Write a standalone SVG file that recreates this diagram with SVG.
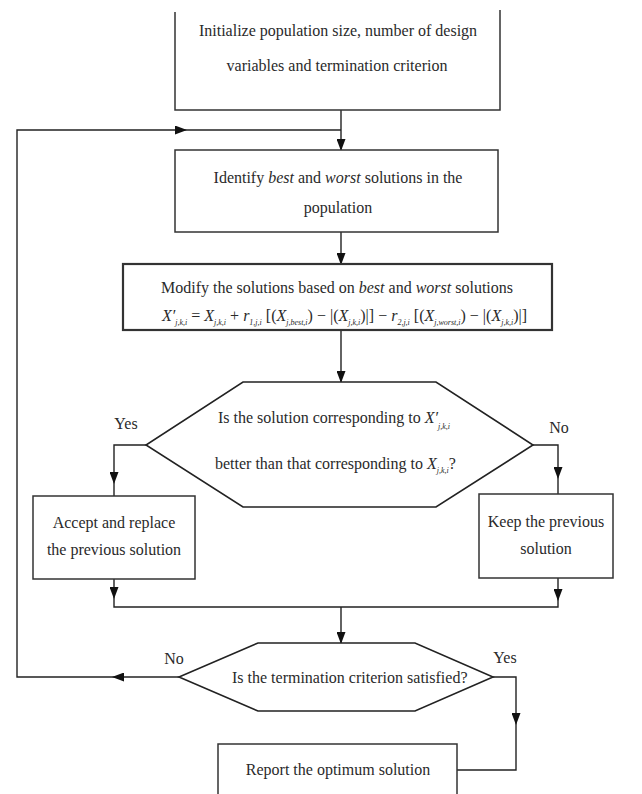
<svg xmlns="http://www.w3.org/2000/svg" width="642" height="794" viewBox="0 0 642 794">
<style>
.box{fill:#fff;stroke:#333;stroke-width:1.5}
.thick{stroke-width:2.2}
.hex{fill:#fff;stroke:#222;stroke-width:1.6}
.ln{fill:none;stroke:#222;stroke-width:1.4}
text{font-family:"Liberation Serif","Times New Roman",serif;font-size:16px;fill:#2a2a2a}
.c{text-anchor:middle}
.i{font-style:italic}
.sub{font-size:8px;font-style:italic}
</style>
<defs>
<marker id="ah" markerUnits="userSpaceOnUse" markerWidth="12" markerHeight="9" refX="11" refY="4.5" orient="auto">
<path d="M0,0 L12,4.5 L0,9 z" fill="#111"/>
</marker>
</defs>
<rect width="642" height="794" fill="#fff"/>

<g id="connectors">
<path class="ln" d="M341,110 V150" marker-end="url(#ah)"/>
<path class="ln" d="M113,677 H17 V130 H186" marker-end="url(#ah)"/>
<path class="ln" d="M186,130 H341"/>
<path class="ln" d="M341,232 V264" marker-end="url(#ah)"/>
<path class="ln" d="M341,330 V382" marker-end="url(#ah)"/>
<path class="ln" d="M146,445 H114 V483" marker-end="url(#ah)"/>
<path class="ln" d="M114,483 V496"/>
<path class="ln" d="M533,445 H558 V478" marker-end="url(#ah)"/>
<path class="ln" d="M558,478 V494"/>
<path class="ln" d="M114,579 V598" marker-end="url(#ah)"/>
<path class="ln" d="M114,598 V607 H558 V600"/>
<path class="ln" d="M558,578 V600" marker-end="url(#ah)"/>
<path class="ln" d="M341,607 V643" marker-end="url(#ah)"/>
<path class="ln" d="M179,677 H113" marker-end="url(#ah)"/>
<path class="ln" d="M493,677 H516 V724" marker-end="url(#ah)"/>
<path class="ln" d="M516,724 V770 H457"/>
<text x="126" y="429" class="c">Yes</text>
<text x="559" y="433" class="c">No</text>
<text x="174" y="664" class="c">No</text>
<text x="505" y="663" class="c">Yes</text>
</g>

<g id="init">
<path class="box" d="M175,12 V110 H500 V10"/>
<text x="338" y="36" class="c">Initialize population size, number of design</text>
<text x="337" y="71" class="c">variables and termination criterion</text>
</g>

<g id="identify">
<rect class="box" x="175" y="150" width="323" height="82"/>
<text x="338" y="183" class="c">Identify <tspan class="i">best</tspan> and <tspan class="i">worst</tspan> solutions in the</text>
<text x="338" y="213" class="c">population</text>
</g>

<g id="modify">
<rect class="box thick" x="123" y="264" width="429" height="66"/>
<text x="337" y="293" class="c">Modify the solutions based on <tspan class="i">best</tspan> and <tspan class="i">worst</tspan> solutions</text>
<text x="162" y="321" font-size="15"><tspan class="i">X′</tspan><tspan class="sub" dy="4">j,k,i</tspan><tspan dy="-4"> = </tspan><tspan class="i">X</tspan><tspan class="sub" dy="4">j,k,i</tspan><tspan dy="-4"> + </tspan><tspan class="i">r</tspan><tspan class="sub" dy="4">1,j,i</tspan><tspan dy="-4"> [(</tspan><tspan class="i">X</tspan><tspan class="sub" dy="4">j,best,i</tspan><tspan dy="-4">) − |(</tspan><tspan class="i">X</tspan><tspan class="sub" dy="4">j,k,i</tspan><tspan dy="-4">)|] − </tspan><tspan class="i">r</tspan><tspan class="sub" dy="4">2,j,i</tspan><tspan dy="-4"> [(</tspan><tspan class="i">X</tspan><tspan class="sub" dy="4">j,worst,i</tspan><tspan dy="-4">) − |(</tspan><tspan class="i">X</tspan><tspan class="sub" dy="4">j,k,i</tspan><tspan dy="-4">)|]</tspan></text>
</g>

<g id="decision1">
<polygon class="hex" points="243,382 436,382 533,445 436,507 243,507 146,445"/>
<text x="218" y="423">Is the solution corresponding to <tspan class="i">X′</tspan><tspan class="sub" dy="6">j,k,i</tspan></text>
<text x="215" y="469">better than that corresponding to <tspan class="i">X</tspan><tspan class="sub" dy="4">j,k,i</tspan><tspan dy="-4">?</tspan></text>
</g>

<g id="accept">
<rect class="box" x="33" y="496" width="162" height="83"/>
<text x="114" y="528" class="c">Accept and replace</text>
<text x="114" y="555" class="c">the previous solution</text>
</g>

<g id="keep">
<rect class="box" x="479" y="494" width="134" height="84"/>
<text x="546" y="527" class="c">Keep the previous</text>
<text x="546" y="554" class="c">solution</text>
</g>

<g id="decision2">
<polygon class="hex" points="258,643 415,643 493,677 415,711 258,711 179,677"/>
<text x="232" y="683">Is the termination criterion satisfied?</text>
</g>

<g id="report">
<rect class="box" x="218" y="744" width="239" height="60"/>
<text x="338" y="775" class="c">Report the optimum solution</text>
</g>
</svg>
